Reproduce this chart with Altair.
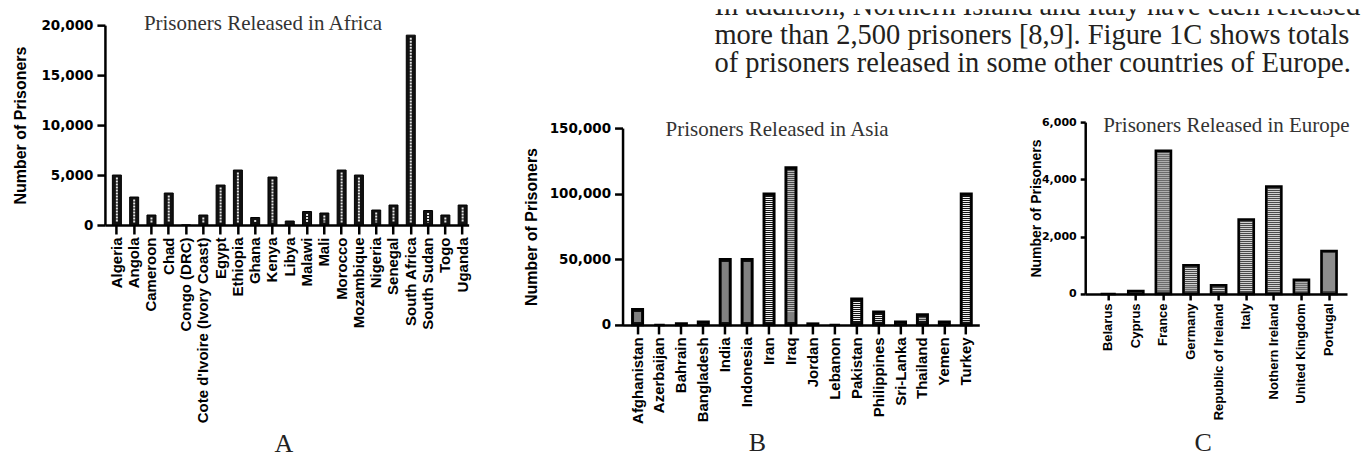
import altair as alt
import pandas as pd

africa_countries = ["Algeria", "Angola", "Cameroon", "Chad", "Congo (DRC)",
                    "Cote d'Ivoire (Ivory Coast)", "Egypt", "Ethiopia", "Ghana",
                    "Kenya", "Libya", "Malawi", "Mali", "Morocco", "Mozambique",
                    "Nigeria", "Senegal", "South Africa", "South Sudan", "Togo", "Uganda"]
africa_values = [5000, 2800, 1000, 3200, 0, 1000, 4000, 5500, 750, 4800, 400,
                 1350, 1200, 5500, 5000, 1500, 2000, 19000, 1450, 1000, 2000]

asia_countries = ["Afghanistan", "Azerbaijan", "Bahrain", "Bangladesh", "India",
                  "Indonesia", "Iran", "Iraq", "Jordan", "Lebanon", "Pakistan",
                  "Philippines", "Sri-Lanka", "Thailand", "Yemen", "Turkey"]
asia_values = [12000, 0, 1000, 2500, 50000, 50000, 100000, 120000, 1000, 0,
               20000, 10000, 2500, 8000, 2500, 100000]

europe_countries = ["Belarus", "Cyprus", "France", "Germany", "Republic of Ireland",
                    "Italy", "Nothern Ireland", "United Kingdom", "Portugal"]
europe_values = [0, 100, 5000, 1000, 300, 2600, 3750, 500, 1500]

africa_ticks = [0, 5000, 10000, 15000, 20000]
asia_ticks = [0, 50000, 100000, 150000]
europe_ticks = [0, 2000, 4000, 6000]

paragraph = ["In addition, Northern Island and Italy have each released",
             "more than 2,500 prisoners [8,9]. Figure 1C shows totals",
             "of prisoners released in some other countries of Europe."]

Y_TITLE = "Number of Prisoners"
ONE = pd.DataFrame({"t": [0]})


def panel(countries, values, ymax, yticks, width, height, ytop, sc, xlab, ylab, ytit,
          tx, ty, tpx, tpy, title, lx, ly, letter, ax,
          fill, sw, stripe_col, stripe_w, stripe_dash, inset, tick):
    df = pd.DataFrame({"country": countries, "value": values})
    base = alt.Chart(df)
    xscale = alt.Scale(paddingInner=sc[0], paddingOuter=sc[1], align=sc[2])
    xaxis = alt.Axis(title=None, labelAngle=270, labelAlign="right",
                     labelBaseline="middle", labelFont="Liberation Sans",
                     labelFontWeight="bold", labelFontSize=xlab,
                     labelColor="black", labelLimit=400, labelPadding=3,
                     tickSize=tick + 1, tickWidth=2.5, tickColor="black",
                     domainColor="black", domainWidth=2.5, labelOverlap=False)
    yscale = alt.Scale(domain=[0, ymax], range=[height, ytop], nice=False, zero=True)
    yaxis = alt.Axis(values=yticks, format=",", labelExpr="format(datum.value, ',')",
                     grid=False,
                     title=Y_TITLE, titleFont="Liberation Sans",
                     titleFontWeight="bold", titleFontSize=ytit,
                     titleColor="black", titleX=tx, titleY=ty,
                     titleAngle=270, titleBaseline="alphabetic",
                     labelFont="DejaVu Sans", labelFontWeight="bold",
                     labelFontSize=ylab, labelColor="black",
                     labelPadding=4, tickSize=tick, tickWidth=2.5,
                     tickColor="black", domainColor="black",
                     domainWidth=2.5)
    bars = base.mark_bar(fill=fill, stroke="black", strokeWidth=sw).encode(
        x=alt.X("country:N", sort=countries, scale=xscale, axis=xaxis),
        y=alt.Y("value:Q", scale=yscale, axis=yaxis))
    stripe = base.transform_filter(
        alt.datum.value > 2.5 * inset
    ).transform_calculate(
        value="datum.value - %f" % inset, bot="%f" % inset
    ).mark_rule(color=stripe_col, strokeWidth=stripe_w, strokeDash=stripe_dash).encode(
        x=alt.X("country:N", sort=countries, scale=xscale, axis=xaxis),
        y=alt.Y("value:Q", scale=yscale, axis=yaxis),
        y2="bot:Q",
    )
    ttl = alt.Chart(ONE).mark_text(
        text=title, font="Liberation Serif", fontSize=21, align="left",
        baseline="alphabetic", color="#333333"
    ).encode(x=alt.value(tpx), y=alt.value(tpy))
    let = alt.Chart(ONE).mark_text(
        text=letter, font="Liberation Serif", fontSize=26, align="center",
        baseline="alphabetic", color="#222222"
    ).encode(x=alt.value(lx), y=alt.value(ly))
    anchor = alt.Chart(ONE).mark_rule(opacity=0, strokeWidth=1).encode(
        x=alt.value(ax), x2=alt.value(ax + 1), y=alt.value(100))
    return alt.layer(bars, stripe, ttl, let, anchor).properties(width=width, height=height)


# A: origin at y=8 (svg top); plot spans 24..224
A = panel(africa_countries, africa_values, 20000, africa_ticks, 364, 216, 16,
          (0.48, 0.26, 0.83), 15, 13.5, 16, -79, 116,
          39, 21, "Prisoners Released in Africa", 179, 443, "A", -96,
          "#111111", 1, "#e6e6e6", 2, [2, 1], 250, 8)

# B/C: origin just below the paragraph block
B = panel(asia_countries, asia_values, 150000, asia_ticks, 357, 214, 17,
          (0.52, 0.40, 0.557), 15, 13.5, 16, -86, 115.5,
          43, 25, "Prisoners Released in Asia", 135, 340, "B", -103,
          "#111111", 2.5, "#f2f2f2", 7, [1, 1], 2500, 8)

C = panel(europe_countries, europe_values, 6000, europe_ticks, 262, 183, 11,
          (0.45, 0.467, 0.597), 13, 11, 14, -45, 97,
          18, 21, "Prisoners Released in Europe", 118, 340, "C", -67,
          "#4a4a4a", 2.5, "#d0d0d0", 12, [1, 1], 90, 5)

line_y = [5.5, 34.5, 63]
lines = []
for txt, yy in zip(paragraph, line_y):
    lines.append(alt.Chart(ONE).mark_text(
        text=txt, font="Liberation Serif", fontSize=28.5, align="left",
        baseline="alphabetic", color="#231f20", clip=True, limit=648,
        ellipsis=" "
    ).encode(x=alt.value(92), y=alt.value(yy)))
T = alt.layer(*lines).properties(width=740, height=100)

rowBC = alt.hconcat(B, C, spacing=37)
colRight = alt.vconcat(T, rowBC, spacing=0)
chart = alt.hconcat(A, colRight, spacing=48).properties(padding=0).configure_view(
    stroke="transparent")

chart.save("out.html", embed_options={"renderer": "svg", "actions": False})
